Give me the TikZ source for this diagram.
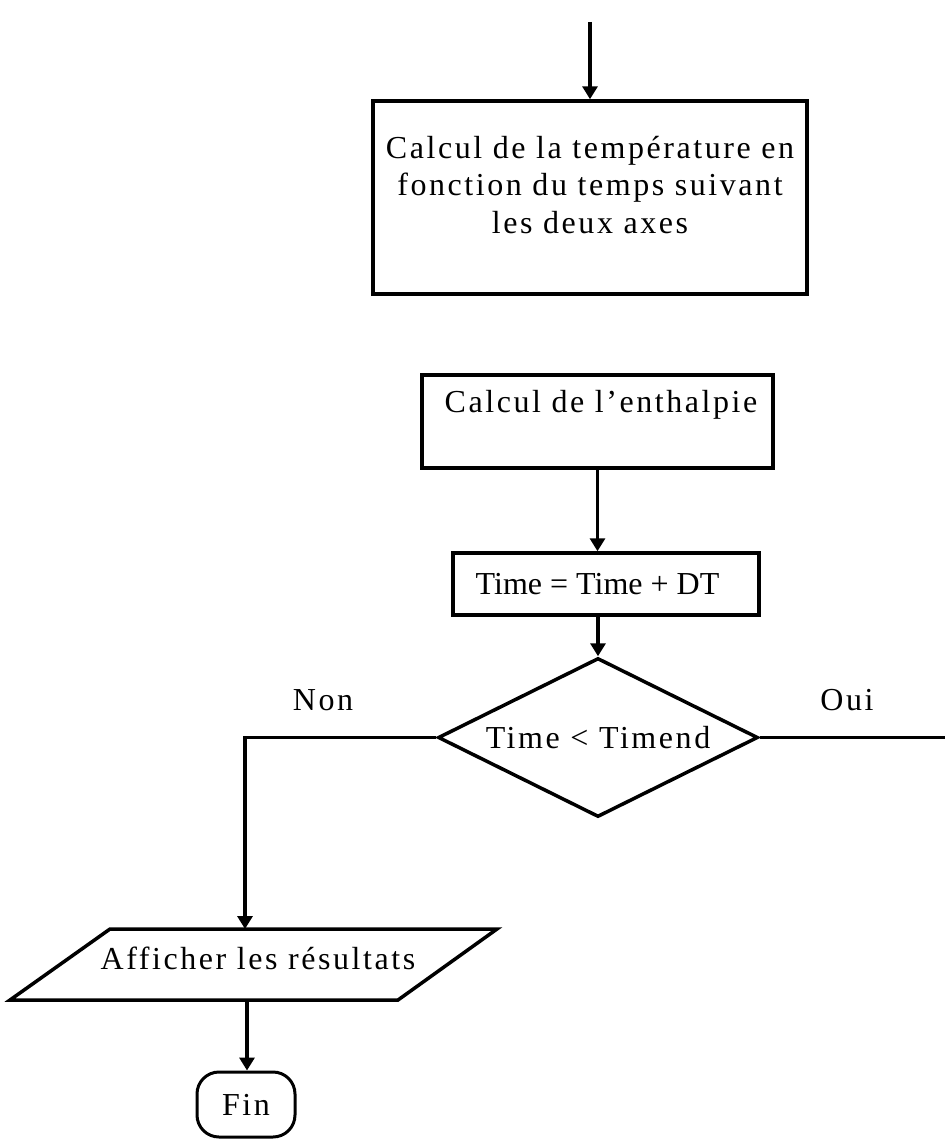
\documentclass[tikz,border=0pt]{standalone}
\usepackage{fontspec}
\setmainfont{Liberation Serif}
\newfontfamily\spacedfont[LetterSpace=8]{Liberation Serif}
\usetikzlibrary{shapes.geometric,arrows.meta}

\begin{document}
\begin{tikzpicture}[x=1pt,y=-1pt,
    box/.style={draw,line width=3.5pt,inner sep=0pt},
    flow/.style={line width=3.5pt,-{Triangle[length=13pt,width=15pt]}},
    txt/.style={font=\spacedfont\fontsize{32}{37.5}\selectfont,align=center},
    plain/.style={font=\fontsize{32}{37.5}\selectfont}]

    % 1. Fix the page size
    \useasboundingbox (0,0) rectangle (945,1140);

    % 2. Boxes
    \node[box,minimum width=434pt,minimum height=193pt] (temp) at (590,197.5) {};
    \node[txt] (tempText) at (590,185) {Calcul de la température en\\fonction du temps suivant\\les deux axes};

    \node[box,minimum width=351pt,minimum height=93pt] (enth) at (597.5,421.5) {};
    \node[txt] (enthText) at (601,405) {Calcul de l’enthalpie};

    \node[box,minimum width=306pt,minimum height=62pt] (time) at (606,584) {};
    \node[plain] (timeText) at (597.5,584) {Time = Time + DT};

    % 3. Test
    \node[box,diamond,aspect=2,minimum width=320pt,minimum height=159pt,txt] (test) at (598,737.5) {Time < Timend};
    \node[txt] (non) at (323,700) {Non};
    \node[txt] (oui) at (847,700) {Oui};

    % 4. Output (parallelogram) and end
    \node[txt] (show) at (258,958) {Afficher les résultats};
    \coordinate (showTop) at (245,929);
    \coordinate (showBottom) at (247,1000);
    \draw[line width=3.5pt] (110,929) -- (497,929) -- (398,1000) -- (10,1000) -- cycle;
    \node[draw,line width=3pt,rounded corners=22pt,minimum width=98pt,minimum height=65pt,txt] (fin) at (246,1104.5) {Fin};

    % 5. Free ends of the connectors
    \coordinate (start) at (590,22);
    \coordinate (nonCorner) at (245,737.5);
    \coordinate (ouiEnd) at (945,737.5);

    % 6. Connectors
    \draw[flow] (start) -- (temp.north);
    \draw[flow] (enth.south) -- (enth.south |- time.north);
    \draw[flow] (time.south -| test.north) -- (test.north);
    \draw[flow] (test.west) -- (nonCorner) -- (showTop);
    \draw[line width=3.5pt] (test.east) -- (ouiEnd);
    \draw[flow] (showBottom) -- (showBottom |- fin.north);

\end{tikzpicture}
\end{document}
